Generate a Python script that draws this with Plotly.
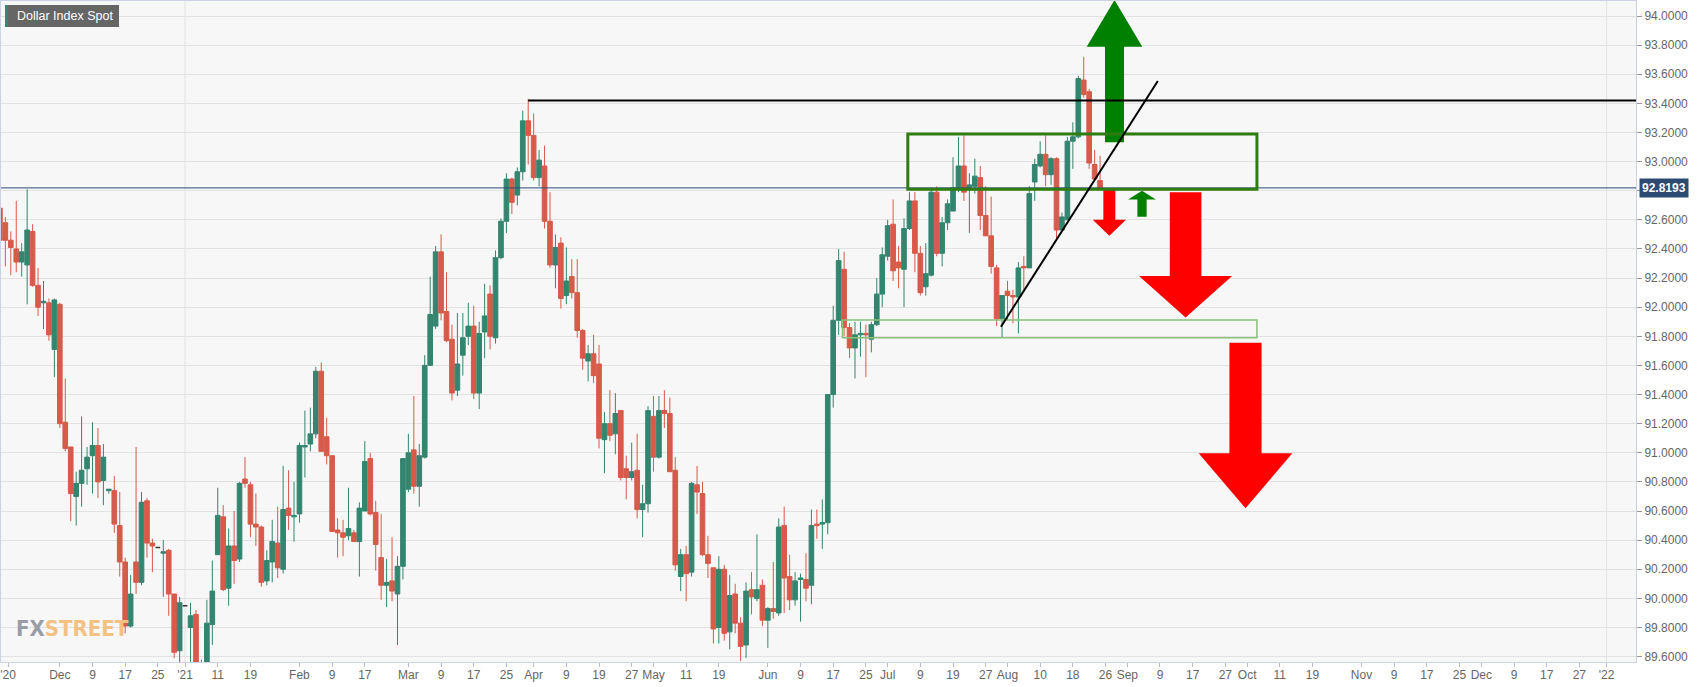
import math
import pandas as pd
import plotly.graph_objects as go

# ---------------- data ----------------
start_date = "2020-11-16"
end_date = "2021-08-25"
dates = pd.bdate_range(start_date, end_date) + pd.Timedelta(hours=12)

opens = [
    92.68, 92.58, 92.46, 92.40, 92.31, 92.29, 92.52, 92.15, 92.03, 92.03,
    91.71, 92.02, 91.21, 91.04, 90.70, 90.79, 90.89, 90.98, 91.05, 90.81,
    90.74, 90.74, 90.50, 90.25, 89.81, 90.25, 90.11, 90.67, 90.38, 90.35,
    90.31, 90.33, 90.03, 89.64, 89.95, 89.80, 89.89, 89.44, 89.52, 89.82,
    90.30, 90.56, 90.07, 90.36, 90.27, 90.82, 90.78, 90.51, 90.49, 90.12,
    90.25, 90.38, 90.20, 90.62, 90.56, 90.58, 91.04, 91.06, 91.13, 91.56,
    91.11, 90.98, 90.47, 90.45, 90.43, 90.45, 90.39, 90.60, 90.96, 90.59,
    90.28, 90.09, 90.12, 90.03, 90.22, 90.75, 91.02, 90.77, 90.97, 91.60,
    91.87, 92.38, 91.97, 91.78, 91.43, 91.67, 91.80, 91.87, 91.41, 91.83,
    92.09, 91.79, 92.34, 92.59, 92.88, 92.77, 92.93, 93.28, 93.18, 92.89,
    92.97, 92.59, 92.29, 92.44, 92.08, 92.21, 92.10, 91.84, 91.63, 91.68,
    91.61, 91.09, 91.20, 91.13, 91.29, 90.89, 90.83, 90.88, 90.61, 90.65,
    91.25, 90.97, 91.29, 91.27, 90.88, 90.15, 90.30, 90.18, 90.78, 90.72,
    90.30, 90.21, 89.80, 90.20, 89.77, 90.03, 89.83, 89.68, 90.06, 90.00,
    90.09, 89.85, 89.93, 89.90, 90.50, 90.15, 89.99, 90.13, 90.13, 90.09,
    90.51, 90.51, 90.52, 91.40, 91.91, 92.26, 91.86, 91.72, 91.81, 91.82,
    91.78, 91.88, 92.09, 92.35, 92.57, 92.31, 92.26, 92.54, 92.73, 92.37,
    92.14, 92.22, 92.79, 92.37, 92.58, 92.66, 92.82, 92.97, 92.82, 92.83,
    92.89, 92.63, 92.49, 92.27, 91.92, 92.11, 92.08, 92.07, 92.28, 92.27,
    92.86, 92.97, 93.05, 92.91, 93.02, 92.53, 92.60, 93.14, 93.17, 93.56,
    93.48, 92.98, 92.87,
]
highs = [
    92.85, 92.62, 92.52, 92.73, 92.44, 92.81, 92.57, 92.27, 92.18, 92.06,
    92.06, 92.03, 91.51, 91.04, 90.87, 91.25, 91.04, 91.21, 91.17, 91.06,
    90.75, 90.84, 90.73, 90.28, 90.16, 91.04, 90.73, 90.69, 90.41, 90.35,
    90.40, 90.34, 90.03, 90.01, 89.95, 89.97, 89.92, 89.58, 89.99, 90.26,
    90.76, 90.64, 90.48, 90.60, 90.80, 90.97, 90.80, 90.72, 90.50, 90.33,
    90.54, 90.63, 90.91, 90.88, 90.80, 91.07, 91.29, 91.31, 91.59, 91.62,
    91.24, 90.98, 90.55, 90.54, 90.76, 90.47, 90.66, 91.08, 91.00, 90.67,
    90.58, 90.27, 90.42, 90.29, 90.96, 91.13, 91.39, 91.06, 91.67, 92.21,
    92.42, 92.50, 92.24, 91.88, 91.96, 91.96, 92.03, 92.01, 91.90, 92.16,
    92.15, 92.39, 92.61, 92.92, 92.89, 92.96, 93.35, 93.43, 93.33, 93.08,
    93.11, 92.79, 92.50, 92.48, 92.41, 92.33, 92.33, 91.85, 91.74, 91.81,
    91.74, 91.28, 91.43, 91.41, 91.29, 90.98, 91.07, 91.13, 90.78, 91.32,
    91.39, 91.39, 91.43, 91.38, 90.97, 90.34, 90.36, 90.80, 90.91, 90.80,
    90.43, 90.21, 90.29, 90.23, 90.16, 90.10, 89.87, 90.11, 90.18, 90.44,
    90.13, 89.94, 90.25, 90.55, 90.63, 90.30, 90.18, 90.17, 90.31, 90.61,
    90.61, 90.68, 91.40, 92.01, 92.40, 92.38, 91.89, 91.90, 91.90, 91.88,
    91.90, 92.20, 92.41, 92.60, 92.74, 92.42, 92.61, 92.79, 92.79, 92.42,
    92.44, 92.82, 92.83, 92.62, 92.74, 93.03, 93.17, 93.18, 92.92, 93.02,
    92.97, 92.83, 92.76, 92.29, 92.08, 92.18, 92.12, 92.31, 92.35, 92.83,
    93.02, 93.14, 93.18, 93.03, 93.03, 92.65, 93.17, 93.27, 93.59, 93.72,
    93.50, 93.08, 93.04,
]
lows = [
    92.42, 92.28, 92.22, 92.24, 92.21, 92.02, 92.14, 91.94, 91.85, 91.77,
    91.52, 91.17, 91.01, 90.53, 90.50, 90.63, 90.78, 90.72, 90.69, 90.64,
    90.72, 90.45, 90.15, 89.76, 89.80, 90.03, 90.09, 90.28, 90.18, 90.35,
    90.01, 89.88, 89.59, 89.51, 89.95, 89.50, 89.40, 89.20, 89.45, 89.68,
    90.30, 90.05, 89.95, 90.10, 90.25, 90.76, 90.42, 90.36, 90.08, 90.09,
    90.11, 90.14, 90.17, 90.47, 90.39, 90.52, 90.83, 91.01, 91.10, 91.01,
    90.92, 90.46, 90.28, 90.29, 90.40, 90.39, 90.15, 90.60, 90.57, 90.19,
    89.99, 89.94, 89.98, 89.68, 90.13, 90.73, 90.72, 90.63, 90.96, 91.60,
    91.85, 91.91, 91.76, 91.36, 91.39, 91.53, 91.74, 91.37, 91.30, 91.65,
    91.71, 91.75, 92.33, 92.51, 92.64, 92.70, 92.87, 92.98, 92.87, 92.83,
    92.54, 92.27, 92.13, 91.99, 92.02, 92.06, 91.79, 91.57, 91.49, 91.48,
    91.03, 90.86, 91.08, 90.99, 90.81, 90.68, 90.81, 90.55, 90.42, 90.59,
    90.87, 90.96, 91.17, 90.87, 90.19, 90.05, 89.98, 90.15, 90.58, 90.29,
    90.14, 89.69, 89.69, 89.71, 89.65, 89.76, 89.57, 89.59, 89.89, 89.98,
    89.81, 89.66, 89.86, 89.88, 89.90, 89.92, 89.95, 89.84, 89.98, 89.96,
    90.41, 90.34, 90.44, 91.31, 91.81, 91.80, 91.65, 91.51, 91.66, 91.52,
    91.69, 91.87, 92.00, 92.32, 92.18, 92.13, 92.00, 92.53, 92.24, 92.08,
    92.08, 92.21, 92.35, 92.28, 92.53, 92.66, 92.79, 92.73, 92.51, 92.78,
    92.53, 92.49, 92.23, 91.87, 91.79, 91.91, 91.89, 91.82, 92.12, 92.27,
    92.73, 92.96, 92.83, 92.84, 92.47, 92.53, 92.60, 92.95, 93.16, 93.44,
    92.95, 92.87, 92.82,
]
closes = [
    92.46, 92.46, 92.41, 92.31, 92.38, 92.53, 92.15, 92.00, 92.04, 91.81,
    92.05, 91.20, 91.03, 90.72, 90.79, 90.88, 90.97, 91.05, 90.80, 90.97,
    90.75, 90.51, 90.25, 89.81, 90.03, 90.11, 90.66, 90.38, 90.36, 90.35,
    90.32, 90.03, 89.63, 89.97, 89.95, 89.88, 89.44, 89.52, 89.83, 90.05,
    90.57, 90.06, 90.36, 90.26, 90.79, 90.79, 90.51, 90.49, 90.11, 90.26,
    90.39, 90.21, 90.61, 90.57, 90.57, 91.05, 91.05, 91.13, 91.56, 91.01,
    90.98, 90.46, 90.45, 90.42, 90.48, 90.39, 90.62, 90.94, 90.58, 90.37,
    90.09, 90.11, 90.05, 90.22, 90.96, 91.00, 90.77, 90.98, 91.60, 91.95,
    92.38, 91.96, 91.77, 91.41, 91.61, 91.79, 91.87, 91.41, 91.82, 91.94,
    91.80, 92.34, 92.59, 92.88, 92.72, 92.93, 93.28, 93.18, 92.89, 93.01,
    92.59, 92.29, 92.41, 92.06, 92.18, 92.10, 91.84, 91.65, 91.68, 91.53,
    91.10, 91.20, 91.12, 91.27, 90.83, 90.83, 90.87, 90.61, 90.65, 91.29,
    90.97, 91.29, 91.27, 90.87, 90.23, 90.30, 90.17, 90.79, 90.73, 90.30,
    90.24, 89.79, 90.20, 89.76, 90.02, 89.83, 89.67, 90.05, 90.01, 90.06,
    89.85, 89.93, 89.91, 90.49, 90.14, 89.99, 90.12, 90.14, 90.07, 90.50,
    90.50, 90.52, 91.40, 91.91, 92.32, 91.86, 91.72, 91.81, 91.82, 91.81,
    91.88, 92.09, 92.36, 92.56, 92.25, 92.27, 92.54, 92.73, 92.37, 92.10,
    92.23, 92.79, 92.37, 92.58, 92.71, 92.82, 92.97, 92.79, 92.84, 92.90,
    92.63, 92.49, 92.28, 91.92, 92.08, 92.08, 92.07, 92.27, 92.27, 92.78,
    92.98, 93.05, 92.91, 93.02, 92.53, 92.62, 93.14, 93.17, 93.57, 93.46,
    92.99, 92.88, 92.8193,
]

last_price = 92.8193
resistance_level = 93.42
resistance_start = "2021-03-31 12:00"

tick_dates = [
    "2020-11-18 00:00", "2020-12-01 12:00", "2020-12-09 12:00", "2020-12-17 12:00",
    "2020-12-25 12:00", "2021-01-01 12:00", "2021-01-11 12:00", "2021-01-19 12:00",
    "2021-02-01 12:00", "2021-02-09 12:00", "2021-02-17 12:00", "2021-03-01 12:00",
    "2021-03-09 12:00", "2021-03-17 12:00", "2021-03-25 12:00", "2021-04-01 12:00",
    "2021-04-09 12:00", "2021-04-19 12:00", "2021-04-27 12:00", "2021-05-03 12:00",
    "2021-05-11 12:00", "2021-05-19 12:00", "2021-06-01 12:00", "2021-06-09 12:00",
    "2021-06-17 12:00", "2021-06-25 12:00", "2021-07-01 12:00", "2021-07-09 12:00",
    "2021-07-19 12:00", "2021-07-27 12:00", "2021-08-02 12:00", "2021-08-10 12:00",
    "2021-08-18 12:00", "2021-08-26 12:00", "2021-09-01 12:00", "2021-09-09 12:00",
    "2021-09-17 12:00", "2021-09-27 12:00", "2021-10-01 12:00", "2021-10-11 12:00",
    "2021-10-19 12:00", "2021-11-01 12:00", "2021-11-09 12:00", "2021-11-17 12:00",
    "2021-11-25 12:00", "2021-12-01 12:00", "2021-12-09 12:00", "2021-12-17 12:00",
    "2021-12-27 12:00", "2022-01-03 12:00",
]
tick_text = [
    "'20", "Dec", "9", "17", "25", "'21", "11", "19", "Feb", "9", "17", "Mar",
    "9", "17", "25", "Apr", "9", "19", "27", "May", "11", "19", "Jun", "9",
    "17", "25", "Jul", "9", "19", "27", "Aug", "10", "18", "26", "Sep", "9",
    "17", "27", "Oct", "11", "19", "Nov", "9", "17", "25", "Dec", "9", "17",
    "27", "'22",
]
year_lines = ["2021-01-01 12:00", "2022-01-03 12:00"]

# ---------------- styling ----------------
GREEN = "#34856f"
RED = "#d75a4a"
BG = "#f7f7f7"
GRID = "#e2e2e2"
AXIS = "#cdd1e4"
TXT = "#666666"


def bpos(n):
    """business-day index (0 = 2021-01-01, slot centred on noon) -> timestamp"""
    k = math.floor(n + 0.5)
    f = n + 0.5 - k
    return pd.Timestamp("2021-01-01") + pd.offsets.BDay(k) + pd.Timedelta(days=f)


# split flat (dark) dojis from regular candles
flat = [o == c and h == l for o, h, l, c in zip(opens, highs, lows, closes)]
reg_idx = [i for i, f in enumerate(flat) if not f]
flat_idx = [i for i, f in enumerate(flat) if f]

fig = go.Figure()
fig.add_trace(go.Candlestick(
    x=[dates[i] for i in reg_idx],
    open=[opens[i] for i in reg_idx], high=[highs[i] for i in reg_idx],
    low=[lows[i] for i in reg_idx], close=[closes[i] for i in reg_idx],
    increasing=dict(line=dict(color=GREEN, width=1), fillcolor=GREEN),
    decreasing=dict(line=dict(color=RED, width=1), fillcolor=RED),
    whiskerwidth=0, showlegend=False, hoverinfo="skip",
))
fig.add_trace(go.Candlestick(
    x=[dates[i] for i in flat_idx],
    open=[opens[i] for i in flat_idx], high=[highs[i] for i in flat_idx],
    low=[lows[i] for i in flat_idx], close=[closes[i] for i in flat_idx],
    increasing=dict(line=dict(color="#333333", width=1.5), fillcolor="#333333"),
    decreasing=dict(line=dict(color="#333333", width=1.5), fillcolor="#333333"),
    whiskerwidth=0, showlegend=False, hoverinfo="skip",
))

# analyst arrows: (centre idx, shaft half-width, head half-width, tail, head base, tip, colour)
arrows = [
    (170.65, 1.75, 5.1, 93.133, 93.789, 94.11, "#008000"),
    (169.7, 1.1, 3.05, 92.805, 92.60, 92.49, "#ff0000"),
    (175.7, 0.85, 2.55, 92.622, 92.74, 92.80, "#008000"),
    (183.7, 2.9, 8.55, 92.79, 92.214, 91.93, "#ff0000"),
    (194.7, 2.95, 8.6, 91.756, 90.996, 90.619, "#ff0000"),
]
for c, sh, hh, tail, base, tip, col in arrows:
    xs = [c - sh, c + sh, c + sh, c + hh, c, c - hh, c - sh, c - sh]
    ys = [tail, tail, base, base, tip, base, base, tail]
    fig.add_trace(go.Scatter(
        x=[bpos(v) for v in xs], y=ys, mode="lines", fill="toself",
        fillcolor=col, line=dict(width=0, color=col),
        showlegend=False, hoverinfo="skip",
    ))

x_lo, x_hi = bpos(-33.8), bpos(266.4)
y_lo, y_hi = 89.563, 94.103

shapes = []
for d in year_lines:
    shapes.append(dict(type="line", xref="x", yref="paper", x0=d, x1=d, y0=0, y1=1,
                       line=dict(color=GRID, width=1), layer="below"))
# last price line
shapes.append(dict(type="line", xref="paper", yref="y", x0=0, x1=1,
                   y0=last_price, y1=last_price, line=dict(color="#2b4a77", width=1)))
# resistance line
shapes.append(dict(type="line", xref="x", yref="y", x0=resistance_start, x1=x_hi,
                   y0=resistance_level, y1=resistance_level,
                   line=dict(color="#000000", width=2)))
# zones
shapes.append(dict(type="rect", xref="x", yref="y", x0=bpos(132.7), x1=bpos(196.8),
                   y0=92.81, y1=93.19, line=dict(color="#2f7d12", width=3)))
shapes.append(dict(type="rect", xref="x", yref="y", x0=bpos(120.7), x1=bpos(196.8),
                   y0=91.79, y1=91.912, line=dict(color="#8cbf78", width=1.5)))
# trend line
shapes.append(dict(type="line", xref="x", yref="y", x0=bpos(149.8), x1=bpos(178.6),
                   y0=91.866, y1=93.554, line=dict(color="#000000", width=2)))
# title badge
shapes.append(dict(type="rect", xref="paper", yref="paper", xsizemode="pixel",
                   ysizemode="pixel", xanchor=0, yanchor=1, x0=4, x1=118, y0=-26, y1=-4,
                   fillcolor="#666666", line=dict(width=0)))
shapes.append(dict(type="rect", xref="paper", yref="paper", xsizemode="pixel",
                   ysizemode="pixel", xanchor=0, yanchor=1, x0=4, x1=7, y0=-26, y1=-4,
                   fillcolor="#2f8a72", line=dict(width=0)))

annotations = [
    dict(xref="paper", yref="paper", x=0, y=1, xanchor="left", yanchor="top",
         xshift=14, yshift=-6, text="Dollar Index Spot", showarrow=False,
         font=dict(family="Liberation Sans, Arial, sans-serif", size=12.5, color="#ffffff")),
    dict(xref="paper", yref="y", x=1, y=last_price, xanchor="left", yanchor="middle",
         xshift=3, text="<b>92.8193</b>", showarrow=False, bgcolor="#2c4a72",
         borderpad=2,
         font=dict(family="Liberation Sans, Arial, sans-serif", size=12, color="#ffffff")),
    dict(xref="paper", yref="paper", x=0, y=0, xanchor="left", yanchor="bottom",
         xshift=13, yshift=19, showarrow=False,
         text="<b><span style='color:#9a9ca8'>FX</span><span style='color:#f3c283'>STREET</span></b>",
         font=dict(family="Liberation Sans Narrow, DejaVu Sans Condensed, Arial Narrow, sans-serif",
                   size=22)),
]

fig.update_layout(
    width=1707, height=687,
    margin=dict(l=1, r=71, t=1, b=25),
    paper_bgcolor="#ffffff", plot_bgcolor=BG,
    boxgap=0.15, boxgroupgap=0,
    shapes=shapes, annotations=annotations,
    showlegend=False,
    xaxis=dict(
        type="date", range=[x_lo, x_hi], rangeslider=dict(visible=False),
        rangebreaks=[dict(bounds=["sat", "mon"])],
        tickmode="array", tickvals=tick_dates, ticktext=tick_text,
        showgrid=False, zeroline=False,
        showline=True, linecolor=AXIS, linewidth=1, mirror=True,
        ticks="outside", ticklen=4, tickcolor="#b8bccc", ticklabelstandoff=-2,
        tickfont=dict(family="Liberation Sans, Arial, sans-serif", size=12, color=TXT),
    ),
    yaxis=dict(
        side="right", range=[y_lo, y_hi], dtick=0.2, tick0=89.6, tickformat=".4f",
        showgrid=True, gridcolor=GRID, gridwidth=1, zeroline=False,
        showline=True, linecolor=AXIS, linewidth=1, mirror=True,
        ticks="outside", ticklen=5, tickcolor="#999999",
        tickfont=dict(family="Liberation Sans, Arial, sans-serif", size=12, color=TXT),
    ),
)

fig.write_html(
    "out.html",
    config={"displayModeBar": False},
    post_script="document.body.style.margin='0';document.body.style.overflow='hidden';",
)
